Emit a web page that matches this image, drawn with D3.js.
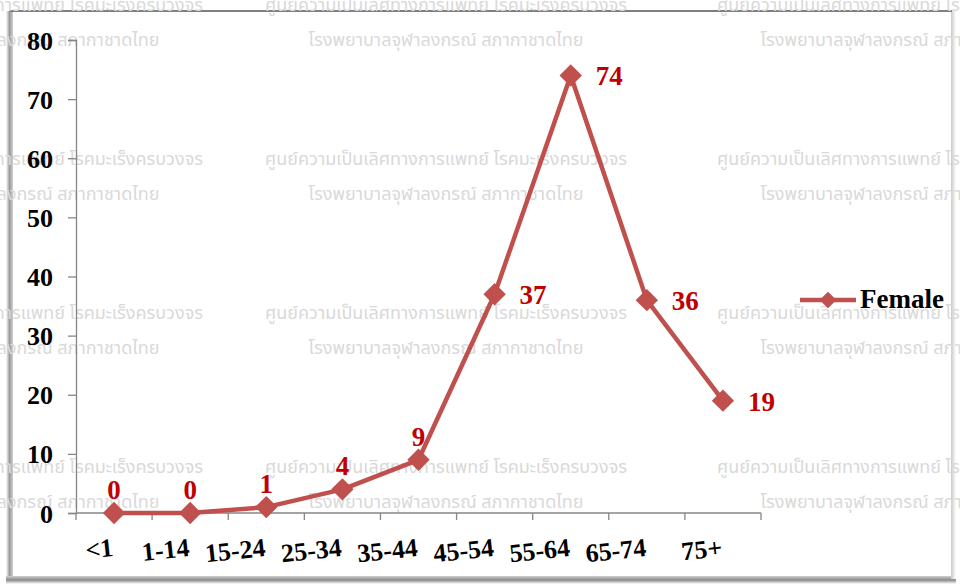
<!DOCTYPE html>
<html><head><meta charset="utf-8">
<script src="https://cdn.jsdelivr.net/npm/d3@7"></script>
<style>
html,body{margin:0;padding:0;background:#fff;}
svg{display:block;}
</style></head>
<body>
<script>
const categories = ["<1","1-14","15-24","25-34","35-44","45-54","55-64","65-74","75+"];
const femaleValues = [0,0,1,4,9,37,74,36,19];
const yTicks = [0,10,20,30,40,50,60,70,80];
const seriesName = "Female";
const watermarkLine1 = "ศูนย์ความเป็นเลิศทางการแพทย์ โรคมะเร็งครบวงจร";
const watermarkLine2 = "โรงพยาบาลจุฬาลงกรณ์ สภากาชาดไทย";

const W = 960, H = 585;
const svg = d3.select("body").append("svg").attr("width", W).attr("height", H);
const defs = svg.append("defs");
const gl = defs.append("linearGradient").attr("id","shL").attr("x1","0").attr("x2","1");
gl.append("stop").attr("offset","0").attr("stop-color","#ffffff");
gl.append("stop").attr("offset","0.5").attr("stop-color","#9a9a9a");
gl.append("stop").attr("offset","1").attr("stop-color","#d0d0d0");
const gb = defs.append("linearGradient").attr("id","shB").attr("x1","0").attr("x2","0").attr("y1","0").attr("y2","1");
gb.append("stop").attr("offset","0").attr("stop-color","#d0d0d0");
gb.append("stop").attr("offset","0.5").attr("stop-color","#8a8a8a");
gb.append("stop").attr("offset","1").attr("stop-color","#ffffff");
const gr = defs.append("linearGradient").attr("id","shR").attr("x1","0").attr("x2","1");
gr.append("stop").attr("offset","0").attr("stop-color","#c8c8c8");
gr.append("stop").attr("offset","1").attr("stop-color","#ffffff");

// frame
svg.append("rect").attr("x",0).attr("y",0).attr("width",W).attr("height",H).attr("fill","#fff");
svg.append("rect").attr("x",6).attr("y",11).attr("width",7).attr("height",570).attr("fill","url(#shL)");
svg.append("rect").attr("x",6).attr("y",576).attr("width",950).attr("height",8).attr("fill","url(#shB)");
svg.append("rect").attr("x",951).attr("y",11).attr("width",5).attr("height",568).attr("fill","url(#shR)");
svg.append("line").attr("x1",10).attr("x2",952).attr("y1",11).attr("y2",11).attr("stroke","#7f7f7f").attr("stroke-width",2);

// watermark
const wm = svg.append("g").attr("fill","#d9d9d9").style("font-family","'Noto Sans Thai','Noto Sans','DejaVu Sans',sans-serif").style("font-size","18px");
const wmCenters = [22, 446, 898];
const wmRows = [11, 165, 319, 473];
wmRows.forEach(r => wmCenters.forEach(c => {
  wm.append("text").attr("x", c).attr("y", r).attr("text-anchor","middle")
    .attr("textLength", 362).attr("lengthAdjust","spacingAndGlyphs").text(watermarkLine1);
  wm.append("text").attr("x", c).attr("y", r + 35).attr("text-anchor","middle")
    .attr("textLength", 275).attr("lengthAdjust","spacingAndGlyphs").text(watermarkLine2);
}));

const x = d3.scaleBand().domain(categories).range([76, 761]);
const y = d3.scaleLinear().domain([0, 80]).range([513, 40]);
const cx = d => x(d) + x.bandwidth() / 2;
const serif = "'Liberation Serif','Times New Roman',serif";
const axisColor = "#868686";

// y axis
const ya = svg.append("g").attr("transform","translate(76,0)")
  .call(d3.axisLeft(y).tickValues(yTicks).tickSize(8).tickPadding(15).tickFormat(d3.format("d")));
ya.select(".domain").attr("stroke", axisColor).attr("stroke-width",1.3);
ya.selectAll(".tick line").attr("stroke", axisColor).attr("stroke-width",1.3);
ya.selectAll(".tick text").attr("fill","#000").style("font-family",serif).style("font-size","26px").style("font-weight","bold").attr("dy","0.35em");

// x axis
const xa = svg.append("g").attr("transform","translate(0,513)");
xa.append("line").attr("x1", x.range()[0]).attr("x2", x.range()[1]).attr("y1",0).attr("y2",0).attr("stroke",axisColor).attr("stroke-width",1.3);
xa.selectAll("line.tk").data(categories.concat(["__end"])).enter().append("line").attr("class","tk")
  .attr("x1", d => d === "__end" ? x.range()[1] : x(d)).attr("x2", d => d === "__end" ? x.range()[1] : x(d))
  .attr("y1",0).attr("y2",7).attr("stroke",axisColor).attr("stroke-width",1.3);
xa.selectAll("text").data(categories).enter().append("text")
  .attr("transform", d => `translate(${cx(d)},43) rotate(-6)`)
  .attr("text-anchor","end").attr("fill","#000")
  .style("font-family",serif).style("font-size","26px").style("font-weight","bold").text(d => d);

// line
const color = "#c0504d";
const data = categories.map((c,i) => ({c, v: femaleValues[i], i}));
svg.append("path").datum(data).attr("fill","none").attr("stroke",color).attr("stroke-width",4.5)
  .attr("stroke-linejoin","round")
  .attr("d", d3.line().x(d => cx(d.c)).y(d => y(d.v)));
const diamond = d3.symbol().type(d3.symbolSquare).size(250);
svg.selectAll("path.mk").data(data).enter().append("path").attr("class","mk")
  .attr("d", diamond).attr("fill",color)
  .attr("transform", d => `translate(${cx(d.c)},${y(d.v)}) rotate(45)`);

// labels
const peakIndex = femaleValues.indexOf(d3.max(femaleValues));
svg.selectAll("text.lbl").data(data).enter().append("text").attr("class","lbl")
  .attr("x", d => d.i < peakIndex - 1 ? cx(d.c) : cx(d.c) + 25)
  .attr("y", d => d.i < peakIndex - 1 ? y(d.v) - 14 : y(d.v) + 10)
  .attr("text-anchor", d => d.i < peakIndex - 1 ? "middle" : "start")
  .attr("fill","#c00000").style("font-family",serif).style("font-size","27px").style("font-weight","bold")
  .text(d => d.v);

// legend
const lg = svg.append("g").attr("transform","translate(800,300)");
lg.append("line").attr("x1",0).attr("x2",56).attr("y1",0).attr("y2",0).attr("stroke",color).attr("stroke-width",4.5);
lg.append("path").attr("d", d3.symbol().type(d3.symbolSquare).size(140)).attr("fill",color).attr("transform","translate(28,0) rotate(45)");
lg.append("text").attr("x",60).attr("y",8).attr("fill","#000").style("font-family",serif).style("font-size","27px").style("font-weight","bold").text(seriesName);
</script>
</body></html>
